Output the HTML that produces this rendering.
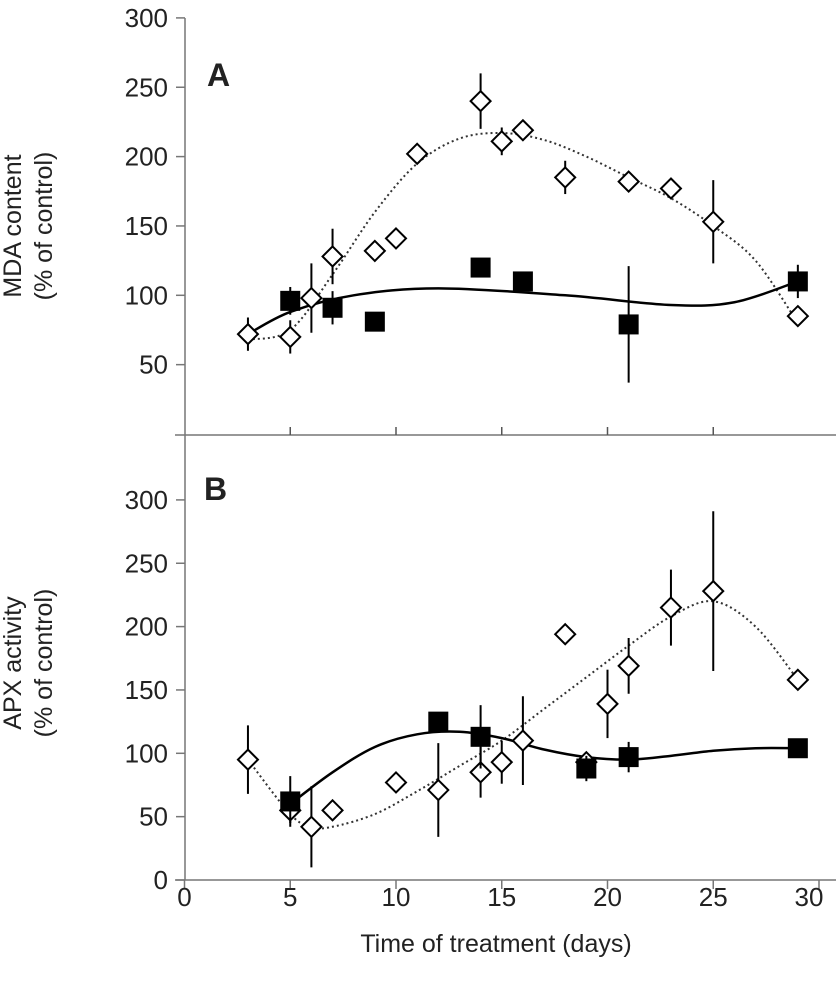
<!DOCTYPE html>
<html><head><meta charset="utf-8"><style>
body{margin:0;background:#fff}
svg text{font-family:"Liberation Sans",Arial,sans-serif;fill:#222}
</style></head><body>
<svg id="c" width="836" height="991" xmlns="http://www.w3.org/2000/svg"></svg>
<script>
const aDiaX=[3,5,6,7,9,10,11,14,15,16,18,21,23,25,29];
const aDiaY=[72,70,98,128,132,141,202,240,211,219,185,182,177,153,85];
const aDiaE=[12,12,25,20,5,5,3,20,10,5,12,3,5,30,5];
const aSqX=[5,7,9,14,16,21,29];
const aSqY=[96,91,81,120,110,79,110];
const aSqE=[10,12,3,3,3,42,12];
const aFitSolidX=[3,5,8,12,18,23,26,29];
const aFitSolidY=[72,88,100,105,100,93,95,110];
const aFitDotX=[3,5,7,9,11,13,15,17,19,21,23,25,27,29];
const aFitDotY=[68,75,115,160,195,213,217,212,200,185,170,150,125,80];
const bDiaX=[3,5,6,7,10,12,14,15,16,18,19,20,21,23,25,29];
const bDiaY=[95,55,42,55,77,71,85,93,110,194,93,139,169,215,228,158];
const bDiaE=[27,10,32,5,3,37,20,17,35,5,5,27,22,30,63,5];
const bSqX=[5,12,14,19,21,29];
const bSqY=[62,125,113,88,97,104];
const bSqE=[20,3,25,10,12,3];
const bFitSolidX=[5,7,9,11,13,15,17,19,21,23,25,27,29];
const bFitSolidY=[60,85,105,115,117,112,103,97,95,98,102,104,104];
const bFitDotX=[3,5,6,7,9,11,13,15,17,19,21,23,25,27,29];
const bFitDotY=[95,52,42,42,52,70,90,110,135,160,185,208,220,200,158];
const xTicks=[0,5,10,15,20,25,30];
const aTicks=[50,100,150,200,250,300];
const bTicks=[0,50,100,150,200,250,300];

const NS="http://www.w3.org/2000/svg",svg=document.getElementById('c');
const X=v=>184.5+v*21.15;
const YA=v=>434-v*1.387;
const YB=v=>880-v*1.267;
function el(t,a,name,p){const e=document.createElementNS(NS,t);for(const k in a)e.setAttribute(k,a[k]);


(p||svg).appendChild(e);return e;}
function txt(s,a,name){const e=el('text',a,name);e.textContent=s;return e;}
function smooth(xs,ys,Y){const p=xs.map((x,i)=>[X(x),Y(ys[i])]);let d=`M${p[0][0]},${p[0][1]}`;
for(let i=0;i<p.length-1;i++){const p0=p[i-1]||p[i],p1=p[i],p2=p[i+1],p3=p[i+2]||p2;
d+=` C${p1[0]+(p2[0]-p0[0])/6},${p1[1]+(p2[1]-p0[1])/6} ${p2[0]-(p3[0]-p1[0])/6},${p2[1]-(p3[1]-p1[1])/6} ${p2[0]},${p2[1]}`;}return d;}
el('line',{x1:185,y1:18,x2:185,y2:880,stroke:'#777','stroke-width':1.5},'y-axis');
el('line',{x1:175,y1:435,x2:836,y2:435,stroke:'#777','stroke-width':1.5},'panel-a-x-axis');
el('line',{x1:175,y1:880,x2:836,y2:880,stroke:'#777','stroke-width':1.5},'panel-b-x-axis');
xTicks.forEach(v=>{el('line',{x1:X(v),y1:880,x2:X(v),y2:889,stroke:'#777','stroke-width':1.5},'x-tick');
txt(String(v),{x:X(v)-(v==30?10:0),y:906,'font-size':26,'text-anchor':'middle'},'x-tick-label');
if(v>0&&v<30)el('line',{x1:X(v),y1:435,x2:X(v),y2:427,stroke:'#555','stroke-width':1.5},'panel-a-x-tick');});
aTicks.forEach(v=>{el('line',{x1:176,y1:YA(v),x2:185,y2:YA(v),stroke:'#777','stroke-width':1.5},'a-y-tick');
txt(String(v),{x:168,y:YA(v)+9,'font-size':26,'text-anchor':'end'},'a-y-tick-label');});
bTicks.forEach(v=>{el('line',{x1:176,y1:YB(v),x2:185,y2:YB(v),stroke:'#777','stroke-width':1.5},'b-y-tick');
txt(String(v),{x:168,y:YB(v)+9,'font-size':26,'text-anchor':'end'},'b-y-tick-label');});
txt('A',{x:207,y:86,'font-size':32,'font-weight':'bold'},'panel-a-label');
txt('B',{x:204,y:500,'font-size':32,'font-weight':'bold'},'panel-b-label');
txt('MDA content',{transform:'translate(21,226) rotate(-90)','font-size':25,'text-anchor':'middle'},'a-y-title');
txt('(% of control)',{transform:'translate(52,226) rotate(-90)','font-size':25,'text-anchor':'middle'},'a-y-title-unit');
txt('APX activity',{transform:'translate(21,663) rotate(-90)','font-size':25,'text-anchor':'middle'},'b-y-title');
txt('(% of control)',{transform:'translate(52,663) rotate(-90)','font-size':25,'text-anchor':'middle'},'b-y-title-unit');
txt('Time of treatment (days)',{x:496,y:952,'font-size':25,'text-anchor':'middle'},'x-axis-title');
function panel(p,Y,dx,dy,de,sx,sy,se,fsx,fsy,fdx,fdy){
 el('path',{d:smooth(fdx,fdy,Y),fill:'none',stroke:'#333','stroke-width':2,'stroke-dasharray':'2,3'},p+'-dotted-fit');
 el('path',{d:smooth(fsx,fsy,Y),fill:'none',stroke:'#000','stroke-width':2.5},p+'-solid-fit');
 dx.forEach((x,i)=>{el('line',{x1:X(x),x2:X(x),y1:Y(dy[i]-de[i]),y2:Y(dy[i]+de[i]),stroke:'#000','stroke-width':2},p+'-diamond-error');
  const cx=X(x),cy=Y(dy[i]);
  el('polygon',{points:`${cx},${cy-10} ${cx+10},${cy} ${cx},${cy+10} ${cx-10},${cy}`,fill:'#fff',stroke:'#000','stroke-width':2},p+'-diamond-point');});
 sx.forEach((x,i)=>{el('line',{x1:X(x),x2:X(x),y1:Y(sy[i]-se[i]),y2:Y(sy[i]+se[i]),stroke:'#000','stroke-width':2},p+'-square-error');
  el('rect',{x:X(x)-10,y:Y(sy[i])-10,width:20,height:20,fill:'#000'},p+'-square-point');});
}
panel('a',YA,aDiaX,aDiaY,aDiaE,aSqX,aSqY,aSqE,aFitSolidX,aFitSolidY,aFitDotX,aFitDotY);
panel('b',YB,bDiaX,bDiaY,bDiaE,bSqX,bSqY,bSqE,bFitSolidX,bFitSolidY,bFitDotX,bFitDotY);
</script>
</body></html>
